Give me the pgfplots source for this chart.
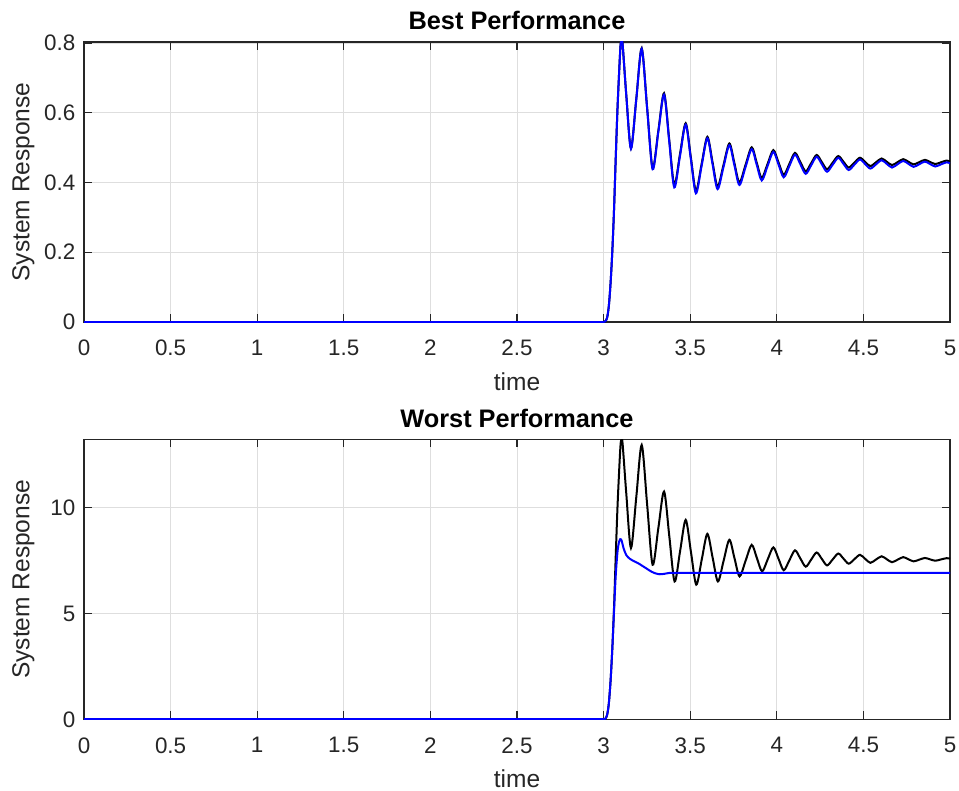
\documentclass[border=0pt]{standalone}
\usepackage{fontspec}
\setmainfont{Liberation Sans}
\usepackage{pgfplots}
\pgfplotsset{compat=1.18}
\definecolor{axgray}{RGB}{38,38,38}
\definecolor{gridgray}{RGB}{222,222,222}
\pgfplotsset{
  mlab/.style={
    scale only axis, width=649.5pt, height=210pt,
    xmin=0, xmax=5, xtick={0,0.5,1,1.5,2,2.5,3,3.5,4,4.5,5},
    grid=major, major grid style={color=gridgray, line width=0.6pt},
    axis line style={color=axgray, line width=0.8pt},
    tick style={color=axgray, line width=0.8pt}, major tick length=6pt,
    tick align=inside, tick pos=both,
    /pgf/number format/assume math mode=true,
    ticklabel style={font=\fontsize{16.8}{19}\selectfont, text=axgray},
    xticklabel style={yshift=-10pt},
    yticklabel style={xshift=-3pt},
    label style={font=\fontsize{18.4}{21}\selectfont, text=axgray},
    xlabel style={at={(axis description cs:0.5,0)}, anchor=base, yshift=-51pt},
    ylabel style={at={(axis description cs:-0.063,0.5)}, anchor=base},
    title style={at={(axis description cs:0.5,1)}, anchor=base, yshift=3pt, font=\bfseries\fontsize{19}{22}\selectfont},
    every axis plot/.append style={line width=1.5pt},
  }
}
\begin{document}
\begin{tikzpicture}
\path[use as bounding box] (0,0) rectangle (719.25pt,-593.25pt);
% ---------------- Top axis ----------------
\begin{axis}[mlab, at={(63pt,-31.5pt)}, anchor=north west,
  ymin=0, ymax=0.803, ytick={0,0.2,0.4,0.6,0.8},
  title={Best Performance}, xlabel={time}, ylabel={System Response}]
\addplot[black, sharp plot] coordinates {(0,0) (3.0,0)};
\addplot[black, smooth, tension=0.5] coordinates {
(3.000,0) (3.010,0.002) (3.020,0.012) (3.030,0.045) (3.040,0.11) (3.050,0.20)
(3.060,0.32) (3.070,0.47) (3.080,0.61) (3.090,0.72) (3.098,0.795) (3.104,0.803) (3.110,0.795)
(3.131,0.6505) (3.158,0.498) (3.189,0.6415) (3.220,0.785) (3.2515,0.613) (3.283,0.441)
(3.316,0.5485) (3.349,0.656) (3.3785,0.5245) (3.408,0.393) (3.441,0.4815) (3.474,0.570)
(3.5035,0.473) (3.533,0.376) (3.566,0.4535) (3.599,0.531) (3.6285,0.4595) (3.658,0.388)
(3.692,0.450) (3.726,0.512) (3.755,0.456) (3.784,0.400) (3.8195,0.4505) (3.855,0.501)
(3.884,0.457) (3.913,0.413) (3.9465,0.453) (3.980,0.493) (4.010,0.4575) (4.040,0.422)
(4.0725,0.4535) (4.105,0.485) (4.136,0.4585) (4.167,0.432) (4.1985,0.4555) (4.230,0.479)
(4.260,0.4585) (4.290,0.438) (4.3225,0.457) (4.355,0.476) (4.385,0.4595) (4.415,0.443)
(4.4475,0.457) (4.480,0.471) (4.510,0.459) (4.540,0.447) (4.5725,0.458) (4.605,0.469)
(4.635,0.4595) (4.665,0.450) (4.6975,0.4585) (4.730,0.467) (4.760,0.4595) (4.790,0.452)
(4.8225,0.4585) (4.855,0.465) (4.885,0.459) (4.915,0.453) (4.9475,0.458) (4.980,0.463)
(5.000,0.460)};
\addplot[blue, sharp plot] coordinates {(0,0) (3.0,0)};
\addplot[blue, smooth, tension=0.5] coordinates {
(3.000,0) (3.010,0.002) (3.020,0.012) (3.030,0.045) (3.040,0.11) (3.050,0.20)
(3.060,0.32) (3.070,0.47) (3.080,0.61) (3.090,0.72) (3.098,0.795) (3.104,0.803) (3.110,0.795)
(3.131,0.650) (3.158,0.497) (3.189,0.640) (3.220,0.783) (3.2515,0.611) (3.283,0.438)
(3.316,0.545) (3.349,0.652) (3.3785,0.520) (3.408,0.386) (3.441,0.476) (3.474,0.566)
(3.5035,0.468) (3.533,0.369) (3.566,0.448) (3.599,0.527) (3.6285,0.454) (3.658,0.381)
(3.692,0.444) (3.726,0.507) (3.755,0.450) (3.784,0.393) (3.8195,0.4445) (3.855,0.496)
(3.884,0.451) (3.913,0.406) (3.9465,0.447) (3.980,0.488) (4.010,0.4515) (4.040,0.415)
(4.0725,0.4475) (4.105,0.480) (4.136,0.4525) (4.167,0.425) (4.1985,0.4495) (4.230,0.474)
(4.260,0.4525) (4.290,0.431) (4.3225,0.451) (4.355,0.471) (4.385,0.4535) (4.415,0.436)
(4.4475,0.451) (4.480,0.466) (4.510,0.453) (4.540,0.440) (4.5725,0.452) (4.605,0.464)
(4.635,0.4535) (4.665,0.443) (4.6975,0.4525) (4.730,0.462) (4.760,0.4535) (4.790,0.445)
(4.8225,0.4525) (4.855,0.460) (4.885,0.453) (4.915,0.446) (4.9475,0.452) (4.980,0.458)
(5.000,0.455)};
\end{axis}
% ---------------- Bottom axis ----------------
\begin{axis}[mlab, at={(63pt,-329.5pt)}, anchor=north west,
  ymin=0, ymax=13.24, ytick={0,5,10},
  title={Worst Performance}, xlabel={time}, ylabel={System Response}]
\addplot[black, sharp plot] coordinates {(0,0) (3.0,0)};
\addplot[black, smooth, tension=0.5] coordinates {
(3.000,0) (3.010,0.03) (3.020,0.2) (3.030,0.74) (3.040,1.8) (3.050,3.3)
(3.060,5.25) (3.070,7.7) (3.080,10.0) (3.090,11.8) (3.098,13.0) (3.104,13.24) (3.110,13.0)
(3.131,10.67) (3.158,8.10) (3.189,10.535) (3.220,12.97) (3.2515,10.14) (3.283,7.31)
(3.316,9.04) (3.349,10.77) (3.3795,8.645) (3.410,6.52) (3.442,7.975) (3.474,9.43)
(3.5045,7.90) (3.535,6.37) (3.567,7.57) (3.599,8.77) (3.6295,7.645) (3.660,6.52)
(3.693,7.505) (3.726,8.49) (3.7555,7.625) (3.785,6.76) (3.820,7.505) (3.855,8.25)
(3.885,7.625) (3.915,7.00) (3.9475,7.565) (3.980,8.13) (4.010,7.59) (4.040,7.05)
(4.0725,7.52) (4.105,7.99) (4.136,7.605) (4.167,7.22) (4.1985,7.555) (4.230,7.89)
(4.260,7.585) (4.290,7.28) (4.3225,7.56) (4.355,7.84) (4.385,7.60) (4.415,7.36)
(4.4475,7.57) (4.480,7.78) (4.510,7.59) (4.540,7.40) (4.5725,7.555) (4.605,7.71)
(4.635,7.57) (4.665,7.43) (4.6975,7.55) (4.730,7.67) (4.760,7.57) (4.790,7.47)
(4.8225,7.55) (4.855,7.63) (4.885,7.565) (4.915,7.50) (4.9475,7.56) (4.980,7.62)
(5.000,7.60)};
\addplot[blue, sharp plot] coordinates {(0,0) (3.0,0)};
\addplot[blue, smooth, tension=0.5] coordinates {
(3.000,0) (3.010,0.03) (3.020,0.2) (3.030,0.74) (3.040,1.8) (3.050,3.3)
(3.060,5.1) (3.070,6.8) (3.080,7.9) (3.088,8.35) (3.096,8.52) (3.104,8.45)
(3.115,8.1) (3.130,7.78) (3.150,7.6) (3.175,7.48) (3.200,7.38) (3.225,7.25)
(3.250,7.12) (3.275,6.99) (3.300,6.9) (3.325,6.86) (3.350,6.88) (3.380,6.92)
(3.450,6.93) (4.200,6.93) (5.000,6.93)};
\end{axis}
\end{tikzpicture}
\end{document}
